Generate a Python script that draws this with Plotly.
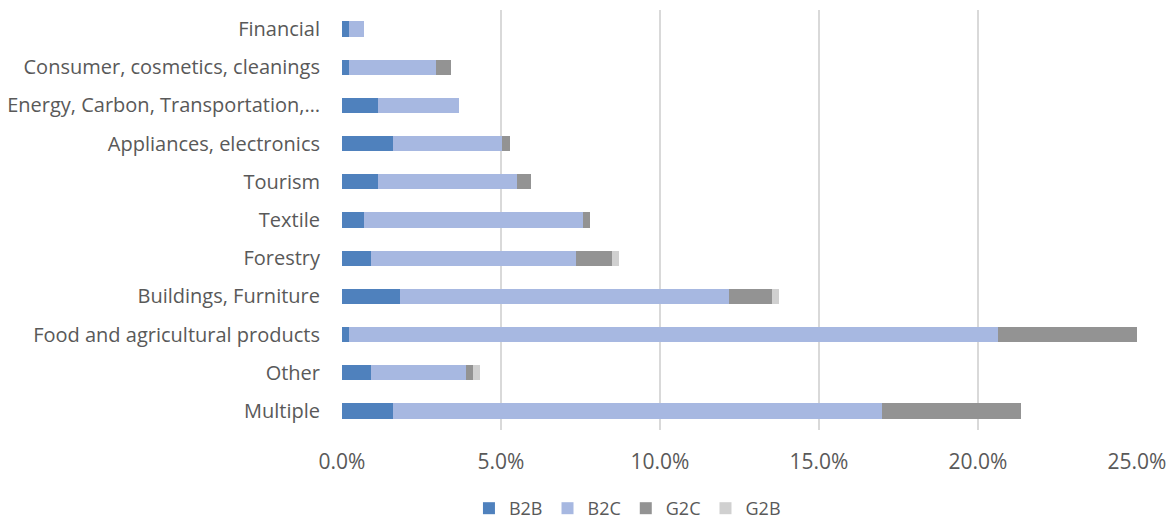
import plotly.graph_objects as go

# Sectors, listed bottom to top as they appear on the axis
categories = [
    "Multiple",
    "Other",
    "Food and agricultural products",
    "Buildings, Furniture",
    "Forestry",
    "Textile",
    "Tourism",
    "Appliances, electronics",
    "Energy, Carbon, Transportation,…",
    "Consumer, cosmetics, cleanings",
    "Financial",
]

# Share of cases per business model (fraction of total)
b2b = [0.0159, 0.0091, 0.0023, 0.0182, 0.0091, 0.0068, 0.0114, 0.0159, 0.0114, 0.0023, 0.0023]
b2c = [0.1539, 0.0298, 0.2041, 0.1034, 0.0644, 0.0689, 0.0437, 0.0345, 0.0253, 0.0274, 0.0045]
g2c = [0.0436, 0.0022, 0.0436, 0.0136, 0.0113, 0.0023, 0.0044, 0.0023, 0.0, 0.0047, 0.0]
g2b = [0.0, 0.0023, 0.0, 0.0023, 0.0023, 0.0, 0.0, 0.0, 0.0, 0.0, 0.0]

x_ticks = [0, 0.05, 0.10, 0.15, 0.20, 0.25]

series = [
    ("B2B", b2b, "#4f81bd"),
    ("B2C", b2c, "#a7b8e1"),
    ("G2C", g2c, "#939393"),
    ("G2B", g2b, "#d0d0d0"),
]

fig = go.Figure()
for name, vals, color in series:
    fig.add_trace(go.Bar(
        y=categories, x=vals, name=name, orientation="h",
        marker=dict(color=color, line=dict(width=0)),
    ))

font_family = "'Open Sans', Lato, sans-serif"

fig.update_layout(
    barmode="stack",
    bargap=0.6,
    width=1175, height=521,
    margin=dict(l=342, r=38, t=10, b=91),
    plot_bgcolor="white", paper_bgcolor="white",
    font=dict(family=font_family, size=20, color="#595959"),
    xaxis=dict(
        range=[0, 0.25], tickvals=x_ticks, tickformat=".1%",
        showgrid=True, gridcolor="#d9d9d9", gridwidth=1.5,
        zeroline=False, showline=False, ticks="",
        ticklabelstandoff=17, fixedrange=True,
        tickfont=dict(size=21),
    ),
    yaxis=dict(
        showgrid=False, zeroline=False, showline=False, ticks="",
        ticklabelstandoff=21, automargin=False,
        tickfont=dict(size=20),
    ),
    legend=dict(
        orientation="h", xref="container", yref="container",
        x=0.534, xanchor="center", y=0.024, yanchor="middle",
        font=dict(size=18, color="#595959"),
        itemwidth=30, traceorder="normal",
    ),
    showlegend=True,
)

fig.write_html("out.html")
